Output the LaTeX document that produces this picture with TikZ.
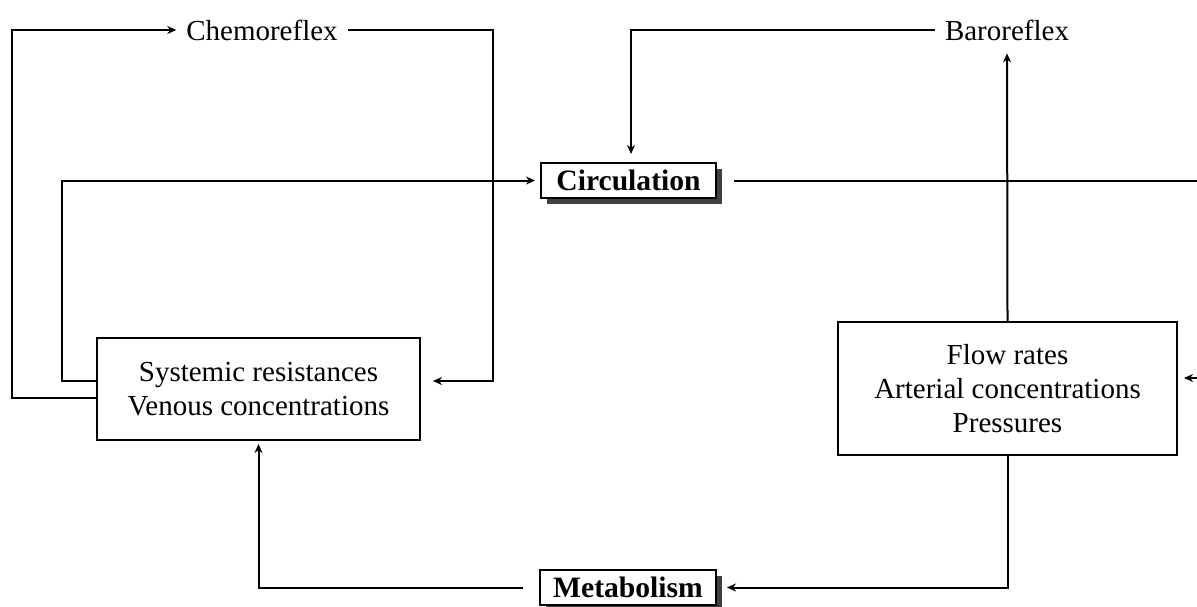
\documentclass[tikz,border=0pt]{standalone}
\usepackage{fontspec}
\setmainfont{Liberation Serif}
\usetikzlibrary{arrows.meta, positioning, shadows}

\tikzset{
  blockbox/.style={draw, line width=1pt, fill=white, align=center, inner sep=0pt},
  titlebox/.style={blockbox, font=\fontsize{14.8}{17}\selectfont\bfseries,
    drop shadow={shadow xshift=3pt, shadow yshift=-3pt, fill=black!75, opacity=1}},
  link/.style={line width=1pt, -{Stealth[length=4.5pt, width=4pt]}},
}

\begin{document}
\begin{tikzpicture}[x=0.5pt, y=-0.5pt, font=\fontsize{14.5}{17}\selectfont]
  \useasboundingbox (0,0) rectangle (1197,606);
  % reflex labels
  \node (chemo) at (262,30) {Chemoreflex};
  \node (baro) at (1007,30) {Baroreflex};
  % main blocks
  \node[titlebox, minimum width=87.5pt, minimum height=17.5pt] (circ) at (628.5,180.5) {Circulation};
  \node[titlebox, minimum width=88pt, minimum height=17.5pt] (meta) at (628,587.5) {Metabolism};
  \node[blockbox, minimum width=161.5pt, minimum height=51pt] (sys) at (258.5,389)
    {Systemic resistances\\Venous concentrations};
  \node[blockbox, minimum width=169.5pt, minimum height=66.5pt] (flow) at (1007.5,388.5)
    {Flow rates\\Arterial concentrations\\Pressures};

  % chemoreflex loop
  \draw[link] ([yshift=-4.5pt]sys.west) -| (12,30) -- ([xshift=-1.5pt]chemo.west);
  \draw[link] ([xshift=1.5pt]chemo.east) -| (493,381) -- ([xshift=6pt,yshift=4pt]sys.east);
  \draw[link] ([yshift=4pt]sys.west) -- (62,381) |- ([xshift=-2.5pt]circ.west);
  % baroreflex loop
  \draw[link, shorten >=3pt] (flow.north) -- (baro.south);
  \draw[link] ([xshift=-1.5pt]baro.west) -| ([xshift=1.25pt,yshift=4pt]circ.north);
  \draw[link] ([xshift=8.5pt]circ.east) -| (1199,378) -- ([xshift=3pt,yshift=5.25pt]flow.east);
  % metabolism
  \draw[link] (flow.south) |- ([xshift=5pt]meta.east);
  \draw[link] ([xshift=-8pt]meta.west) -| ([yshift=-1.5pt]sys.south);
\end{tikzpicture}
\end{document}
